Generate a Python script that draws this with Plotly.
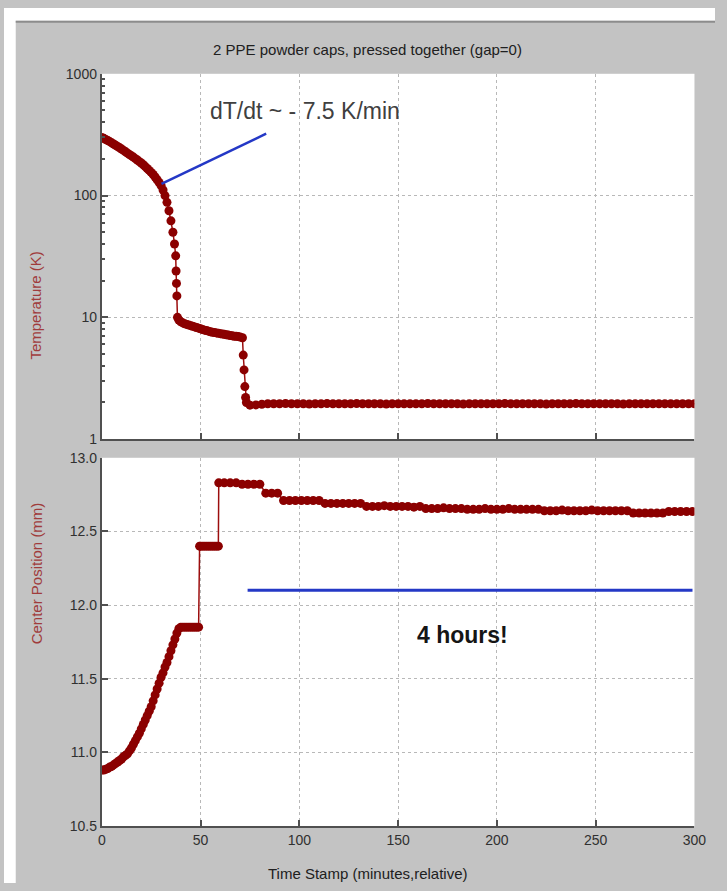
import math
import plotly.graph_objects as go

# ---------------- data ----------------
# Temperature during cooldown (minutes, kelvin)
temp_time_cool = [0, 1, 2, 3, 4, 5, 6, 7, 8, 9, 10, 11, 12, 13, 14, 15, 16, 17, 18, 19,
                  20, 21, 22, 23, 24, 25, 26, 27, 28, 29, 30, 31, 32, 33, 34, 35, 36,
                  36.8, 37.4, 37.6, 37.8, 38.0, 38.3]
temp_cool = [300, 295, 289, 283, 277, 271, 265, 259, 253, 247, 241, 235, 229, 223, 217,
             212, 207, 201, 196, 190, 185, 179, 173, 167, 161, 155, 149, 142, 135, 128,
             121, 111, 100, 88, 75, 62, 50, 40, 32, 24, 19, 15, 10]

temp_time_slow = [39, 40, 41, 42, 43, 44, 45, 46, 47, 48, 49, 50, 51, 52, 53, 54, 55, 56,
                  57, 58, 59, 60, 61, 62, 63, 64, 65, 66, 67, 68, 69, 70]
temp_slow = [9.5, 9.2, 9.0, 8.85, 8.75, 8.65, 8.55, 8.45, 8.35, 8.25, 8.15, 8.05, 7.95,
             7.85, 7.8, 7.7, 7.6, 7.55, 7.5, 7.45, 7.4, 7.35, 7.3, 7.25, 7.2, 7.15, 7.1,
             7.05, 7.0, 7.0, 6.95, 6.9]

temp_time_drop = [71.2, 71.6, 72.0, 72.4, 72.8, 73.2]
temp_drop = [6.8, 4.9, 3.7, 2.7, 2.2, 2.0]

temp_time_base = [75, 78, 81, 84, 87, 90, 93, 96, 99, 102, 105, 108, 111, 114, 117, 120,
                  123, 126, 129, 132, 135, 138, 141, 144, 147, 150, 153, 156, 159, 162,
                  165, 168, 171, 174, 177, 180, 183, 186, 189, 192, 195, 198, 201, 204,
                  207, 210, 213, 216, 219, 222, 225, 228, 231, 234, 237, 240, 243, 246,
                  249, 252, 255, 258, 261, 264, 267, 270, 273, 276, 279, 282, 285, 288,
                  291, 294, 297, 300]
temp_base = [1.90, 1.91, 1.93, 1.95, 1.95, 1.95, 1.96, 1.95, 1.95, 1.95,
             1.94, 1.95, 1.95, 1.96, 1.95, 1.95, 1.95, 1.95, 1.96, 1.95,
             1.95, 1.95, 1.95, 1.94, 1.95, 1.95, 1.95, 1.95, 1.95, 1.95,
             1.96, 1.95, 1.95, 1.95, 1.95, 1.95, 1.94, 1.95, 1.95, 1.95,
             1.95, 1.95, 1.95, 1.96, 1.95, 1.95, 1.95, 1.95, 1.95, 1.95,
             1.94, 1.95, 1.95, 1.95, 1.95, 1.96, 1.95, 1.95, 1.95, 1.95,
             1.95, 1.95, 1.95, 1.94, 1.95, 1.95, 1.95, 1.95, 1.95, 1.95,
             1.95, 1.95, 1.95, 1.95, 1.95, 1.95]

# Center position of the caps (minutes, mm)
pos_time_rise = [0, 1, 2, 3, 4, 5, 6, 7, 8, 9, 10, 11, 12, 13, 14, 15, 16, 17, 18, 19, 20,
                 21, 22, 23, 24, 25, 26, 27, 28, 29, 30, 31, 32, 33, 34, 35, 36, 37, 38,
                 39, 40]
pos_rise = [10.88, 10.88, 10.885, 10.89, 10.90, 10.905, 10.915, 10.925, 10.935, 10.945,
            10.955, 10.97, 10.98, 10.99, 11.01, 11.03, 11.055, 11.08, 11.105, 11.13,
            11.16, 11.19, 11.22, 11.25, 11.28, 11.31, 11.35, 11.39, 11.43, 11.47, 11.51,
            11.54, 11.58, 11.61, 11.65, 11.69, 11.73, 11.77, 11.81, 11.84, 11.85]

pos_time_step1 = [41, 42, 43, 44, 45, 46, 47, 48, 49]
pos_step1 = [11.85, 11.85, 11.85, 11.85, 11.85, 11.85, 11.85, 11.85, 11.85]

pos_time_step2 = [49.5, 50, 51, 52, 53, 54, 55, 56, 57, 58, 59]
pos_step2 = [12.40, 12.40, 12.40, 12.40, 12.40, 12.40, 12.40, 12.40, 12.40, 12.40, 12.40]

pos_time_settle = [59.2, 62, 65, 68, 71, 74, 77, 80, 83, 86, 89, 92, 95, 98, 101, 104, 107,
                   110, 113, 116, 119, 122, 125, 128, 131, 134, 137, 140, 143, 146, 149,
                   152, 155, 158, 161, 164, 167, 170, 173, 176, 179, 182, 185, 188, 191,
                   194, 197, 200, 203, 206, 209, 212, 215, 218, 221, 224, 227, 230, 233,
                   236, 239, 242, 245, 248, 251, 254, 257, 260, 263, 266, 269, 272, 275,
                   278, 281, 284, 287, 290, 293, 296, 299]
pos_settle = [12.83,
              12.83, 12.83, 12.83, 12.82, 12.82, 12.82, 12.82, 12.76, 12.76, 12.76,
              12.71, 12.71, 12.71, 12.71, 12.71, 12.71, 12.71, 12.69, 12.69, 12.69,
              12.69, 12.69, 12.69, 12.69, 12.67, 12.67, 12.67, 12.675, 12.67, 12.67,
              12.67, 12.67, 12.665, 12.67, 12.655, 12.655, 12.655, 12.66, 12.655, 12.655,
              12.655, 12.65, 12.65, 12.65, 12.655, 12.65, 12.65, 12.65, 12.655, 12.65,
              12.65, 12.65, 12.65, 12.65, 12.64, 12.64, 12.64, 12.645, 12.64, 12.64,
              12.64, 12.64, 12.645, 12.64, 12.64, 12.64, 12.64, 12.64, 12.64, 12.625,
              12.625, 12.625, 12.625, 12.625, 12.625, 12.635, 12.635, 12.635, 12.635, 12.635]

# Guide lines
slope_time = [30.2, 83.2]
slope_temp = [125, 322]
span_time = [73.8, 299]
span_pos = [12.10, 12.10]

x_ticks = [0, 50, 100, 150, 200, 250, 300]
t_ticks = [1, 10, 100, 1000]
t_minor = [2, 3, 4, 5, 6, 7, 8, 9, 20, 30, 40, 50, 60, 70, 80, 90,
           200, 300, 400, 500, 600, 700, 800, 900]
p_ticks = [10.5, 11.0, 11.5, 12.0, 12.5, 13.0]

temp_time = temp_time_cool + temp_time_slow + temp_time_drop + temp_time_base
temp = temp_cool + temp_slow + temp_drop + temp_base
pos_time = pos_time_rise + pos_time_step1 + pos_time_step2 + pos_time_settle
pos = pos_rise + pos_step1 + pos_step2 + pos_settle
assert len(temp_time) == len(temp) and len(pos_time) == len(pos)

# ---------------- figure ----------------
W, H = 727, 891
DARKRED = "#8b0000"
BLUE = "#2438c6"
FONT = "Liberation Sans, Arial, sans-serif"


def px_x(p):
    return p / W


def px_y(p):
    return (H - p) / H


fig = go.Figure()

fig.add_trace(go.Scatter(
    x=temp_time, y=temp, mode="lines+markers", xaxis="x", yaxis="y",
    line=dict(color="#9c0d0d", width=1.5),
    marker=dict(color=DARKRED, size=9, line=dict(width=0)),
    showlegend=False))
fig.add_trace(go.Scatter(
    x=slope_time, y=slope_temp, mode="lines", xaxis="x", yaxis="y",
    line=dict(color=BLUE, width=2.5), showlegend=False))

fig.add_trace(go.Scatter(
    x=pos_time, y=pos, mode="lines+markers", xaxis="x2", yaxis="y2",
    line=dict(color="#9c0d0d", width=1.5),
    marker=dict(color=DARKRED, size=9, line=dict(width=0)),
    showlegend=False))
fig.add_trace(go.Scatter(
    x=span_time, y=span_pos, mode="lines", xaxis="x2", yaxis="y2",
    line=dict(color=BLUE, width=3), showlegend=False))

x_dom = [px_x(100), px_x(706)]
axis_common = dict(
    showline=True, linecolor="#505050", linewidth=2, mirror=False,
    ticks="inside", ticklen=6, tickwidth=1.5, tickcolor="#505050",
    showgrid=True, gridcolor="#b8b8b8", griddash="dot", gridwidth=1,
    zeroline=False, tickfont=dict(family=FONT, size=14, color="#303030"),
)

fig.update_layout(
    width=W, height=H, autosize=False,
    margin=dict(l=0, r=0, t=0, b=0),
    paper_bgcolor="#c3c3c3", plot_bgcolor="white",
    font=dict(family=FONT),
    xaxis=dict(domain=x_dom, anchor="y", range=[0, 300], tickvals=x_ticks,
               showticklabels=False, **axis_common),
    yaxis=dict(domain=[px_y(439), px_y(67)], anchor="x", type="log", range=[0, 3],
               tickvals=t_ticks, ticktext=[str(v) for v in t_ticks],
               minor=dict(tickvals=t_minor, ticks="inside", ticklen=3,
                          tickcolor="#505050", showgrid=False),
               **axis_common),
    xaxis2=dict(domain=x_dom, anchor="y2", range=[0, 300], tickvals=x_ticks,
                ticktext=[str(v) for v in x_ticks], **axis_common),
    yaxis2=dict(domain=[px_y(833), px_y(458)], anchor="x2", range=[10.5, 13.0],
                tickvals=p_ticks, ticktext=[f"{v:.1f}" for v in p_ticks],
                **axis_common),
)

# white border strips around the grey panel, and its dark top edge
fig.add_shape(type="rect", xref="paper", yref="paper", x0=0, x1=1, y0=px_y(13), y1=1,
              fillcolor="white", line=dict(width=0), layer="below")
fig.add_shape(type="rect", xref="paper", yref="paper", x0=0, x1=px_x(12), y0=0, y1=1,
              fillcolor="white", line=dict(width=0), layer="below")
fig.add_shape(type="line", xref="paper", yref="paper", x0=px_x(12), x1=1,
              y0=px_y(14), y1=px_y(14), line=dict(color="#8c8c8c", width=2))

fig.add_annotation(text="2 PPE powder caps, pressed together (gap=0)",
                   xref="paper", yref="paper", x=px_x(372), y=px_y(42),
                   yanchor="middle", showarrow=False,
                   font=dict(size=15, color="#202020"))
fig.add_annotation(text="Temperature (K)", textangle=-90,
                   xref="paper", yref="paper", x=px_x(22), y=px_y(246),
                   showarrow=False, font=dict(size=15, color="#a03c3c"))
fig.add_annotation(text="Center Position (mm)", textangle=-90,
                   xref="paper", yref="paper", x=px_x(22), y=px_y(650),
                   showarrow=False, font=dict(size=15, color="#a03c3c"))
fig.add_annotation(text="Time Stamp (minutes,relative)",
                   xref="paper", yref="paper", x=px_x(372), y=px_y(881),
                   yanchor="middle", showarrow=False,
                   font=dict(size=15, color="#202020"))

fig.add_annotation(text="dT/dt ~ - 7.5 K/min", xref="x", yref="y",
                   x=54, y=math.log10(494), xanchor="left", showarrow=False,
                   font=dict(size=23, color="#404040"))
fig.add_annotation(text="<b>4 hours!</b>", xref="x2", yref="y2",
                   x=158.4, y=11.8, xanchor="left", showarrow=False,
                   font=dict(size=23, color="#151515"))

fig.write_html("out.html")
